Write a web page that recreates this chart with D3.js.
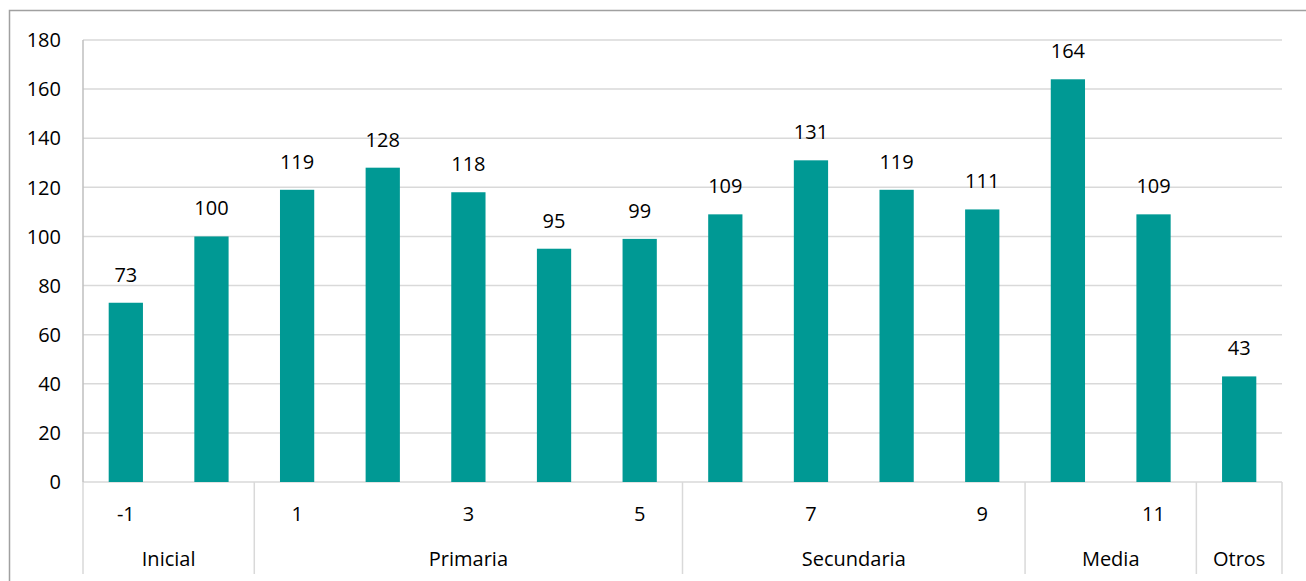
<!DOCTYPE html>
<html>
<head>
<meta charset="utf-8">
<script src="https://cdn.jsdelivr.net/npm/d3@7"></script>
<style>
  body { margin: 0; background: #fff; }
  text { font-family: "Segoe UI", "Open Sans", sans-serif; fill: #000; }
</style>
</head>
<body>
<div id="chart"></div>
<script>
// data
var grades = ["-1", "0", "1", "2", "3", "4", "5", "6", "7", "8", "9", "10", "11", "Otros"];
var tickLabels = ["-1", "", "1", "", "3", "", "5", "", "7", "", "9", "", "11", ""];
var values = [73, 100, 119, 128, 118, 95, 99, 109, 131, 119, 111, 164, 109, 43];
var groups = ["Inicial", "Primaria", "Secundaria", "Media", "Otros"];
var groupSizes = [2, 5, 4, 2, 1];
var yTicks = [0, 20, 40, 60, 80, 100, 120, 140, 160, 180];

var W = 1306, H = 581;
var plotLeft = 83, plotRight = 1282, plotTop = 40, plotZero = 482, plotBottom = 574;
var barColor = "#009994";
var gridColor = "#d9d9d9";

var svg = d3.select("#chart").append("svg")
    .attr("width", W)
    .attr("height", H);

// outer chart border (runs off the right/bottom of the picture)
svg.append("rect")
    .attr("x", 9.5).attr("y", 10.5)
    .attr("width", 1400).attr("height", 700)
    .attr("fill", "none")
    .attr("stroke", "#a0a0a0")
    .attr("stroke-width", 1.5);

var x = d3.scaleBand()
    .domain(grades)
    .range([plotLeft, plotRight])
    .paddingInner(0.6)
    .paddingOuter(0.3);

var y = d3.scaleLinear()
    .domain([0, 180])
    .range([plotZero, plotTop]);

// gridlines
svg.append("g")
    .selectAll("line")
    .data(yTicks)
    .enter()
    .append("line")
    .attr("x1", plotLeft).attr("x2", plotRight)
    .attr("y1", d => y(d)).attr("y2", d => y(d))
    .attr("stroke", gridColor)
    .attr("stroke-width", 1.5);

// y axis labels
svg.append("g")
    .selectAll("text")
    .data(yTicks)
    .enter()
    .append("text")
    .attr("x", 61)
    .attr("y", d => y(d))
    .attr("dy", "0.36em")
    .attr("text-anchor", "end")
    .style("font-size", "20px")
    .text(d => d);

// left axis line
svg.append("line")
    .attr("x1", plotLeft).attr("x2", plotLeft)
    .attr("y1", plotTop).attr("y2", plotZero)
    .attr("stroke", "#bfbfbf")
    .attr("stroke-width", 1.5);

// bars
svg.append("g")
    .selectAll("rect")
    .data(values)
    .enter()
    .append("rect")
    .attr("x", (d, i) => x(grades[i]))
    .attr("width", x.bandwidth())
    .attr("y", d => y(d))
    .attr("height", d => y(0) - y(d))
    .attr("fill", barColor);

// value labels
svg.append("g")
    .selectAll("text")
    .data(values)
    .enter()
    .append("text")
    .attr("x", (d, i) => x(grades[i]) + x.bandwidth() / 2)
    .attr("y", d => y(d) - 21)
    .attr("text-anchor", "middle")
    .style("font-size", "20px")
    .text(d => d);

// grade tick labels
svg.append("g")
    .selectAll("text")
    .data(tickLabels)
    .enter()
    .append("text")
    .attr("x", (d, i) => x(grades[i]) + x.bandwidth() / 2)
    .attr("y", 514)
    .attr("dy", "0.36em")
    .attr("text-anchor", "middle")
    .style("font-size", "20px")
    .text(d => d);

// group separators and labels
var step = x.step();
var start = 0;
var bounds = [];
groups.forEach((g, i) => {
    bounds.push({ name: g, from: start, to: start + groupSizes[i] });
    start += groupSizes[i];
});
var edge = k => plotLeft + k * step;

svg.append("g")
    .selectAll("line")
    .data([0].concat(bounds.map(b => b.to)))
    .enter()
    .append("line")
    .attr("x1", d => edge(d)).attr("x2", d => edge(d))
    .attr("y1", plotZero).attr("y2", plotBottom)
    .attr("stroke", gridColor)
    .attr("stroke-width", 1.5);

svg.append("g")
    .selectAll("text")
    .data(bounds)
    .enter()
    .append("text")
    .attr("x", d => (edge(d.from) + edge(d.to)) / 2)
    .attr("y", 559)
    .attr("dy", "0.36em")
    .attr("text-anchor", "middle")
    .style("font-size", "20px")
    .text(d => d.name);
</script>
</body>
</html>
